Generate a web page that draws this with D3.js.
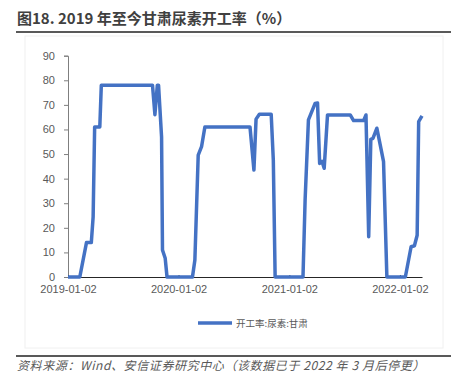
<!DOCTYPE html>
<html><head><meta charset="utf-8">
<script src="https://cdn.jsdelivr.net/npm/d3@7"></script>
<style>body{margin:0;background:#fff;}svg{display:block;font-family:"Liberation Sans","Noto Sans CJK SC",sans-serif;}</style>
</head><body>
<svg id="c" width="457" height="390"></svg>
<script>
const dates = ["2019-01-02","2019-02-10","2019-03-04","2019-03-20","2019-03-26","2019-03-31","2019-04-17","2019-04-22","2019-10-08","2019-10-16","2019-10-24","2019-10-28","2019-11-07","2019-11-10","2019-11-19","2019-11-25","2020-02-17","2020-02-25","2020-03-07","2020-03-18","2020-03-29","2020-08-25","2020-09-07","2020-09-14","2020-09-25","2020-11-03","2020-11-10","2020-11-16","2021-02-16","2021-02-23","2021-03-06","2021-03-28","2021-04-05","2021-04-12","2021-04-20","2021-04-27","2021-05-08","2021-07-22","2021-08-02","2021-09-04","2021-09-12","2021-09-21","2021-09-28","2021-10-05","2021-10-18","2021-10-29","2021-11-09","2021-11-20","2022-01-20","2022-02-08","2022-02-19","2022-02-28","2022-03-05","2022-03-16"];
const values = [0,0,14,14,24.5,61,61,78,78,66,78,78,57,11,7.6,0,0,6.9,49.6,53,61,61,43.5,64.2,66.2,66.2,47.6,0,0,31.3,63.9,70.6,70.8,46.2,47,44.2,65.9,65.9,63.6,63.6,65.9,16.4,56,56.4,60.5,53.7,46.9,0,0,12.3,12.7,17,63.2,65.5];
const yTicks = [0,10,20,30,40,50,60,70,80,90];
const xTickLabels = ["2019-01-02","2020-01-02","2021-01-02","2022-01-02"];
const seriesName = "开工率:尿素:甘肃";
const title = "图18. 2019 年至今甘肃尿素开工率（%）";
const source = "资料来源：Wind、安信证券研究中心（该数据已于 2022 年 3 月后停更）";

const parse = d3.timeParse("%Y-%m-%d");
const data = dates.map((d,i)=>({date:parse(d), v:values[i]}));
const svg = d3.select("#c");

// title
svg.append("text").attr("x",17).attr("y",24).attr("font-size",15).attr("font-weight","bold")
  .attr("fill","#404040").attr("font-family","'Noto Sans CJK SC',sans-serif").text(title);
svg.append("line").attr("x1",16).attr("x2",451).attr("y1",32).attr("y2",32).attr("stroke","#595959").attr("stroke-width",2);

// faint frame
svg.append("rect").attr("x",25).attr("y",36).attr("width",418).attr("height",312).attr("fill","none").attr("stroke","#f0f0f0").attr("stroke-width",1);

const x = d3.scaleTime().domain([parse(dates[0]), parse(dates[dates.length-1])]).range([68,422]);
const y = d3.scaleLinear().domain([0,90]).range([277,55.7]);

// y axis
const ya = svg.append("g").attr("transform","translate(68,0)")
  .call(d3.axisLeft(y).tickValues(yTicks).tickSize(4).tickPadding(9));
ya.select(".domain").attr("stroke","#7f7f7f");
ya.selectAll(".tick line").attr("stroke","#7f7f7f");
ya.selectAll("text").attr("font-size",11).attr("fill","#595959").attr("font-family","'Liberation Sans',sans-serif");

// x axis
const xa = svg.append("g").attr("transform","translate(0,277)")
  .call(d3.axisBottom(x).tickValues(xTickLabels.map(parse)).tickFormat(d3.timeFormat("%Y-%m-%d")).tickSize(-2).tickSizeOuter(0).tickPadding(8));
xa.select(".domain").attr("stroke","#262626");
xa.selectAll(".tick line").attr("stroke","#262626");
xa.selectAll("text").attr("font-size",11).attr("fill","#595959").attr("font-family","'Liberation Sans',sans-serif");

// line
svg.append("path").datum(data).attr("fill","none").attr("stroke","#4472C4").attr("stroke-width",3.5)
  .attr("stroke-linejoin","round")
  .attr("d", d3.line().x(d=>x(d.date)).y(d=>y(d.v)));

// legend
svg.append("line").attr("x1",198).attr("x2",232).attr("y1",323).attr("y2",323).attr("stroke","#4472C4").attr("stroke-width",3.5);
svg.append("text").attr("x",236).attr("y",326.5).attr("font-size",9.5).attr("fill","#595959")
  .attr("font-family","'Noto Sans CJK SC',sans-serif").text(seriesName);

// source
svg.append("line").attr("x1",16).attr("x2",451).attr("y1",356).attr("y2",356).attr("stroke","#595959").attr("stroke-width",2);
svg.append("text").attr("x",17).attr("y",370).attr("font-size",12).attr("letter-spacing",0.6).attr("font-style","italic").attr("fill","#595959")
  .attr("font-family","'Noto Sans CJK SC',sans-serif").text(source);
</script>
</body></html>
